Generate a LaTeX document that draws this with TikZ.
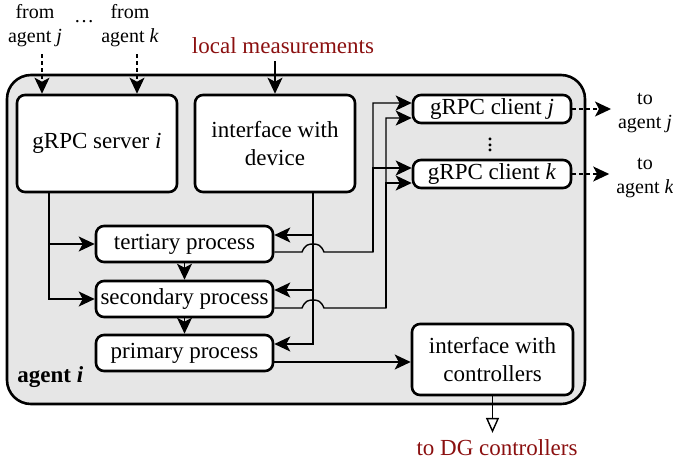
\documentclass[tikz,border=0pt]{standalone}
\usepackage{fontspec}
\setmainfont{Liberation Serif}
\usepackage{xcolor}
\usepackage{tikz}
\usetikzlibrary{arrows.meta,calc}
\definecolor{agentfill}{HTML}{E6E6E6}
\definecolor{measred}{HTML}{8B1010}
\tikzset{
  agentbox/.style={draw, line width=1.3pt, fill=agentfill, rounded corners=12pt},
  blk/.style={draw, line width=1.3pt, fill=white, rounded corners=4pt, inner sep=0pt,
    align=center, font=\fontsize{11.5}{14}\selectfont},
  lab/.style={font=\fontsize{10}{12}\selectfont, align=center},
  redlab/.style={text=measred, font=\fontsize{11.5}{14}\selectfont},
  flow/.style={line width=0.7pt, -{Stealth[length=8pt, width=7.5pt, inset=2pt]}},
  link/.style={line width=0.7pt, dash pattern=on 2pt off 1.5pt, -{Stealth[length=8pt, width=7.5pt, inset=2pt]}},
  outflow/.style={line width=0.7pt, -{Triangle[open, length=7.5pt, width=6.5pt]}},
}

\begin{document}
\begin{tikzpicture}[x=0.5pt,y=-0.5pt]
  \useasboundingbox (0,0) rectangle (673,466);

  % agent frame
  \node[agentbox, minimum width=289pt, minimum height=164.5pt] (agent) at (296,239.5) {};
  \node[font=\fontsize{11.5}{14}\selectfont\bfseries, inner sep=0pt, anchor=base west]
    (agentlab) at (17,382) {agent \textit{i}};

  % blocks
  \node[blk, minimum width=80pt, minimum height=48.5pt] (server) at (97,143.5) {gRPC server \textit{i}};
  \node[blk, minimum width=80pt, minimum height=48.5pt] (device) at (275,143.5) {interface with\\device};
  \node[blk, minimum width=79pt, minimum height=14pt] (clientj) at (492,109) {gRPC client \textit{j}};
  \node[blk, minimum width=79pt, minimum height=14pt] (clientk) at (492,174) {gRPC client \textit{k}};
  \node[inner sep=0pt, font=\fontsize{12}{14}\selectfont] (vdots) at (490,145)
    {\vbox{\baselineskip=2.6pt\lineskiplimit=-5pt\hbox{.}\hbox{.}\hbox{.}}};
  \node[blk, minimum width=88.5pt, minimum height=18pt] (tert) at (184.5,244) {tertiary process};
  \node[blk, minimum width=88.5pt, minimum height=18pt] (sec) at (184.5,299) {secondary process};
  \node[blk, minimum width=88.5pt, minimum height=18pt] (prim) at (184.5,353) {primary process};
  \node[blk, minimum width=80.5pt, minimum height=35.5pt] (ctrl) at (492.5,359.5) {interface with\\controllers};

  % outside labels
  \node[lab] (fromj) at (35,26) {from\\agent \textit{j}};
  \node[lab] (hdots) at (84,22) {\dots};
  \node[lab] (fromk) at (130,26) {from\\agent \textit{k}};
  \node[redlab] (meas) at (283,46) {local measurements};
  \node[lab] (toj) at (645,113) {to\\agent \textit{j}};
  \node[lab] (tok) at (645,178) {to\\agent \textit{k}};
  \node[redlab] (dg) at (497,448) {to DG controllers};

  % incoming
  \draw[link] ([xshift=3.5pt]fromj.south) -- ([xshift=3.5pt]fromj.south |- server.north);
  \draw[link] ([xshift=3.5pt]fromk.south) -- ([xshift=3.5pt]fromk.south |- server.north);
  \draw[flow] (meas.south -| device.north) -- (device.north);

  % server to processes
  \coordinate (sdrop) at ([xshift=-24pt]server.south);
  \draw[flow] (sdrop) |- (tert.west);
  \draw[flow] (sdrop) |- (sec.west);
  \draw[flow] (tert) -- (sec);
  \draw[flow] (sec) -- (prim);

  % device to processes
  \coordinate (bus) at ([xshift=19pt]device.south);
  \draw[flow] (bus) |- ([yshift=4.5pt]tert.east);
  \draw[flow] (bus) |- ([yshift=4.5pt]sec.east);
  \draw[flow] (bus) |- ([yshift=4.5pt]prim.east);

  % processes to clients (hop over bus)
  \coordinate (tbus) at (373,252);
  \coordinate (sbus) at (386,308);
  \draw[flow] ([yshift=-4pt]tert.east) -- (302,252)
    .. controls (305,245) and (308,244) .. (313,244)
    .. controls (318,244) and (321,245) .. (324,252) -- (tbus) |- ([yshift=3pt]clientj.west);
  \draw[flow] (tbus) |- ([yshift=3pt]clientk.west);
  \draw[flow] ([yshift=-4.5pt]sec.east) -- (302,308)
    .. controls (305,301) and (308,300) .. (313,300)
    .. controls (318,300) and (321,301) .. (324,308) -- (sbus) |- ([yshift=-4.5pt]clientj.west);
  \draw[flow] (sbus) |- ([yshift=-4.5pt]clientk.west);
  \draw[flow] ([yshift=-4.5pt]prim.east) -- ([yshift=-4.5pt]prim.east -| ctrl.west);

  % outgoing
  \draw[link] (clientj.east) -- (clientj.east -| toj.west);
  \draw[link] (clientk.east) -- (clientk.east -| tok.west);
  \draw[outflow] (ctrl.south) -- (ctrl.south |- dg.north);
\end{tikzpicture}
\end{document}
